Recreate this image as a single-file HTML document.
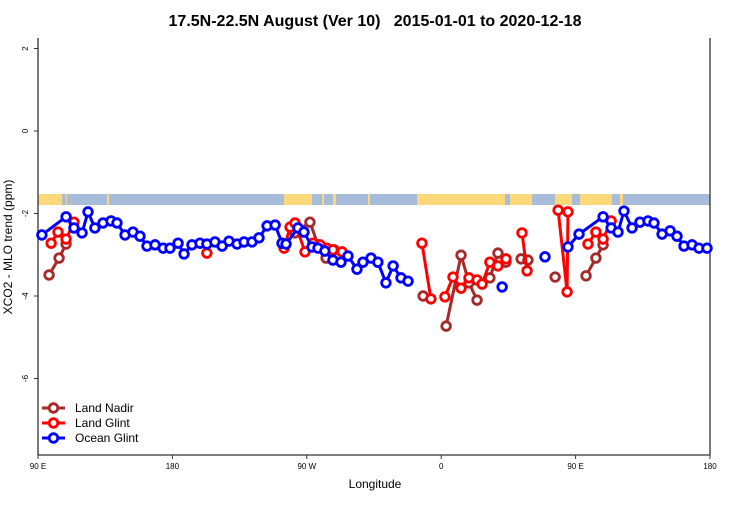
<!DOCTYPE html>
<html><head><meta charset="utf-8"><style>
body{margin:0;background:#fff;width:750px;height:500px;overflow:hidden}
svg{font-family:"Liberation Sans",sans-serif}
</style></head><body>
<svg id="chart" width="750" height="500">
<text x="375" y="26" text-anchor="middle" font-size="16" font-weight="bold" style="white-space:pre">17.5N-22.5N August (Ver 10)   2015-01-01 to 2020-12-18</text>
<text transform="translate(12,247) rotate(-90)" text-anchor="middle" font-size="12">XCO2 - MLO trend (ppm)</text>
<text x="375" y="488" text-anchor="middle" font-size="12">Longitude</text>
<g id="strip"></g>
<g id="axes"></g>
<g id="series"></g>
<g id="legend"></g>
</svg>
<script>
const xTicks=[90,180,270,360,450,540];
const xTickLabels=["90 E","180","90 W","0","90 E","180"];
const yTicks=[2,0,-2,-4,-6];
const nadirLon=[97.4,104.1,108.8,null,262.1,272.1,277.5,282.9,288.3,null,347.9,null,363.3,373.3,378.6,384.0,null,392.6,398.0,403.4,null,413.5,418.1,null,436.3,null,457.0,463.6,468.4];
const nadirVal=[-3.49,-3.08,-2.74,null,-2.47,-2.21,-2.76,-3.08,-2.88,null,-4.00,null,-4.73,-3.01,-3.68,-4.10,null,-3.56,-2.96,-3.18,null,-3.10,-3.13,null,-3.54,null,-3.51,-3.08,-2.76];
const glintLon=[98.8,103.4,108.8,114.1,null,203.1,null,254.8,258.8,262.1,268.8,274.1,278.9,283.5,287.5,293.6,null,347.1,353.1,null,362.5,367.9,373.3,378.6,384.0,387.4,392.6,398.0,403.4,null,414.1,417.5,null,438.3,444.3,444.9,null,458.3,463.6,468.4,473.8];
const glintVal=[-2.72,-2.45,-2.62,-2.21,null,-2.96,null,-2.84,-2.33,-2.23,-2.93,-2.72,-2.76,-2.84,-2.88,-2.93,null,-2.72,-4.07,null,-4.02,-3.54,-3.81,-3.56,-3.61,-3.71,-3.18,-3.27,-3.10,null,-2.47,-3.39,null,-1.92,-3.90,-1.96,null,-2.74,-2.45,-2.62,-2.18];
const oceanLon=[92.6,108.8,114.1,119.5,123.5,128.1,133.5,138.9,142.9,148.3,153.6,158.3,163.0,168.4,173.8,178.4,183.8,187.8,193.1,198.5,203.1,208.5,213.3,217.9,223.3,228.0,233.3,238.0,243.4,248.8,253.4,256.1,264.1,268.1,273.5,277.5,282.1,287.5,292.9,297.6,303.6,307.6,313.0,317.6,323.0,327.8,333.1,337.8,null,400.8,null,429.5,null,444.9,452.3,468.4,473.8,478.4,482.4,487.8,493.1,498.5,502.5,507.9,513.3,517.9,522.6,528.0,532.6,538.0];
const oceanVal=[-2.52,-2.08,-2.35,-2.47,-1.96,-2.35,-2.23,-2.18,-2.23,-2.52,-2.45,-2.55,-2.79,-2.76,-2.84,-2.84,-2.72,-2.98,-2.76,-2.72,-2.74,-2.69,-2.79,-2.67,-2.74,-2.69,-2.69,-2.59,-2.30,-2.28,-2.72,-2.74,-2.35,-2.45,-2.81,-2.84,-2.91,-3.13,-3.18,-3.03,-3.35,-3.18,-3.08,-3.18,-3.68,-3.27,-3.56,-3.64,null,-3.78,null,-3.05,null,-2.81,-2.50,-2.08,-2.35,-2.45,-1.94,-2.35,-2.21,-2.18,-2.23,-2.50,-2.42,-2.55,-2.79,-2.76,-2.84,-2.84];
const landBands=[[90,106.1],[108.7,109.4],[136.2,137.5],[254.7,273.5],[280.2,281.5],[287.5,289.5],[311,312.3],[343.8,402.7],[406,420.8],[436.2,447.6],[453,474.3],[479.7,481.7]];

const X0=38,X1=710,Y0=38,Y1=455;
const sx=l=>X0+(l-90)*(X1-X0)/450;
const sy=v=>131-v*41.25;
const NS="http://www.w3.org/2000/svg";
function mk(tag,attrs,parent){const e=document.createElementNS(NS,tag);for(const k in attrs)e.setAttribute(k,attrs[k]);parent.appendChild(e);return e;}
const axes=document.getElementById('axes');
const strip=document.getElementById('strip');
let r=mk('rect',{x:X0,y:194,width:X1-X0,height:11,fill:'#a7bcdb'},strip);


landBands.forEach(b=>{const e=mk('rect',{x:sx(b[0]),y:194,width:sx(b[1])-sx(b[0]),height:11,fill:'#fdd97a'},strip);

});
let a=mk('path',{d:`M${X0},${Y0}V${Y1}H${X1}V${Y0}`,fill:'none',stroke:'#333','stroke-width':1.3},axes);


xTicks.forEach((t,i)=>{const x=sx(t);mk('line',{x1:x,x2:x,y1:Y1,y2:Y1+4,stroke:'#333'},axes);
const tx=mk('text',{x:x,y:Y1+14,'font-size':8,'text-anchor':'middle'},axes);tx.textContent=xTickLabels[i];

});
yTicks.forEach(t=>{const y=sy(t);mk('line',{x1:X0-4,x2:X0,y1:y,y2:y,stroke:'#333'},axes);
const tx=mk('text',{transform:`translate(${X0-10},${y}) rotate(-90)`,'font-size':8,'text-anchor':'middle'},axes);tx.textContent=t;

});
const series=document.getElementById('series');
function draw(lons,vals,color,name){
  const g=mk('g',{},series);
  
  
  let d='',pen=false;
  lons.forEach((l,i)=>{if(l===null||vals[i]===null){pen=false;return;}d+=(pen?'L':'M')+sx(l)+','+sy(vals[i]);pen=true;});
  const p=mk('path',{d:d,fill:'none',stroke:color,'stroke-width':3},g);
  
  
  lons.forEach((l,i)=>{if(l===null)return;const c=mk('circle',{cx:sx(l),cy:sy(vals[i]),r:4.3,fill:'#fff',stroke:color,'stroke-width':2.8},g);
  
  });
}
draw(nadirLon,nadirVal,'#a52a2a','land-nadir');
draw(glintLon,glintVal,'#ff0000','land-glint');
draw(oceanLon,oceanVal,'#0000ff','ocean-glint');
const legend=document.getElementById('legend');
[['Land Nadir','#a52a2a'],['Land Glint','#ff0000'],['Ocean Glint','#0000ff']].forEach((it,i)=>{
  const y=408+i*15;
  const g=mk('g',{},legend);
  
  
  mk('line',{x1:42,x2:65,y1:y,y2:y,stroke:it[1],'stroke-width':3},g);
  mk('circle',{cx:53.5,cy:y,r:4.3,fill:'#fff',stroke:it[1],'stroke-width':2.8},g);
  const t=mk('text',{x:75,y:y+4,'font-size':12},g);t.textContent=it[0];
});
</script>
</body></html>
